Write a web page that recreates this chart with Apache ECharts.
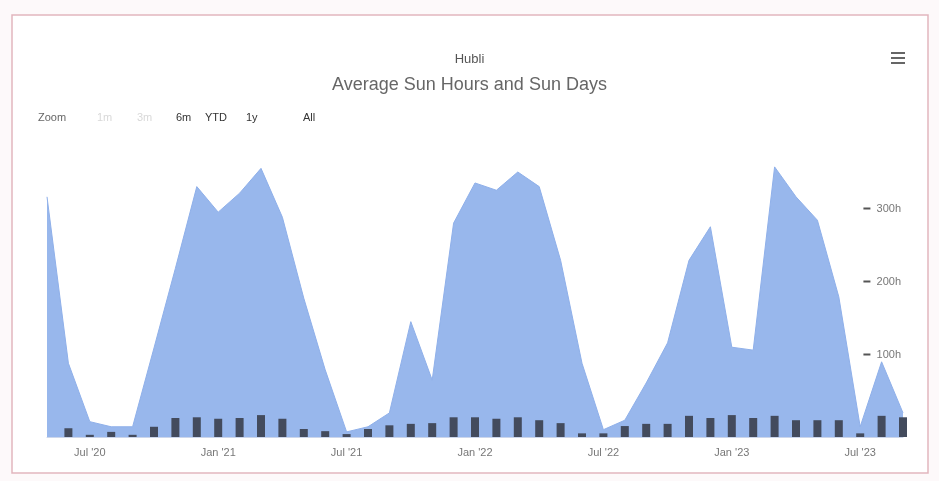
<!DOCTYPE html>
<html>
<head>
<meta charset="utf-8">
<script src="https://cdn.jsdelivr.net/npm/echarts@6/dist/echarts.min.js"></script>
<style>
html,body{margin:0;padding:0;background:#fdf9fa;}
#c{width:939px;height:481px;}
</style>
</head>
<body>
<div id="c"></div>
<script>
const categories = ["May '20","Jun '20","Jul '20","Aug '20","Sep '20","Oct '20","Nov '20","Dec '20",
  "Jan '21","Feb '21","Mar '21","Apr '21","May '21","Jun '21","Jul '21","Aug '21","Sep '21","Oct '21","Nov '21","Dec '21",
  "Jan '22","Feb '22","Mar '22","Apr '22","May '22","Jun '22","Jul '22","Aug '22","Sep '22","Oct '22","Nov '22","Dec '22",
  "Jan '23","Feb '23","Mar '23","Apr '23","May '23","Jun '23","Jul '23","Aug '23","Sep '23"];
const sunHours = [329,101,21,14,14,122,231,343,308,334,368,301,190,92,7,14,33,158,78,293,348,338,363,343,242,101,10,23,74,129,242,288,123,119,370,329,297,192,14,103,33];
const sunDays = [null,12,3,7,3,14,26,27,25,26,30,25,11,8,4,11,16,18,19,27,27,25,27,23,19,5,5,15,18,18,29,26,30,26,29,23,23,23,5,29,27];
const yTickLabels = [100,200,300];
const zoomButtons = [
  {t:'Zoom', x:38, c:'#666'},
  {t:'1m', x:97, c:'#d8d8d8'},
  {t:'3m', x:137, c:'#d8d8d8'},
  {t:'6m', x:176, c:'#333'},
  {t:'YTD', x:205, c:'#333'},
  {t:'1y', x:246, c:'#333'},
  {t:'All', x:303, c:'#333'}
];

const chart = echarts.init(document.getElementById('c'));
const graphics = [
  {type:'rect', shape:{x:12,y:15,width:916,height:458}, style:{fill:'#ffffff', stroke:'#e2b6be', lineWidth:1.5}, z:-10, silent:true},
  {type:'rect', shape:{x:891,y:52,width:14,height:2}, style:{fill:'#666'}},
  {type:'rect', shape:{x:891,y:57,width:14,height:2}, style:{fill:'#666'}},
  {type:'rect', shape:{x:891,y:62,width:14,height:2}, style:{fill:'#666'}}
];
zoomButtons.forEach(b => graphics.push({
  type:'text', x:b.x, y:118,
  style:{text:b.t, fill:b.c, font:'11px "Liberation Sans", Arial, sans-serif', textVerticalAlign:'middle'}
}));

chart.setOption({
  backgroundColor:'transparent',
  animation:false,
  title:[
    {text:'Hubli', left:'center', top:48, textStyle:{fontSize:13, fontWeight:'normal', color:'#555', fontFamily:'Liberation Sans'}},
    {text:'Average Sun Hours and Sun Days', left:'center', top:71, textStyle:{fontSize:18, fontWeight:'normal', color:'#666', fontFamily:'Liberation Sans'}}
  ],
  graphic: graphics,
  grid:{left:47, right:36, top:145, bottom:44},
  xAxis:{
    type:'category', data:categories, boundaryGap:false,
    axisLine:{lineStyle:{color:'#ccd6eb'}},
    axisTick:{show:false},
    axisLabel:{
      interval:(i, v) => v.startsWith('Jan') || v.startsWith('Jul'),
      color:'#777', fontSize:11, margin:10, fontFamily:'Liberation Sans'
    },
    splitLine:{show:false}
  },
  yAxis:{
    type:'value', position:'right', min:0, max:400, interval:100,
    axisLine:{show:false}, axisTick:{show:false},
    splitLine:{show:false},
    axisLabel:{
      inside:true, margin:2, verticalAlign:'bottom', color:'#777', fontSize:11, fontFamily:'Liberation Sans',
      padding:[0,0,4,0],
      formatter:v => yTickLabels.includes(v) ? '{d|}  ' + v + 'h' : '',
      rich:{d:{width:7, height:2, backgroundColor:'#555'}}
    }
  },
  series:[
    {type:'line', name:'Sun Hours', data:sunHours, symbol:'none',
     lineStyle:{color:'#8fb0ea', width:1},
     areaStyle:{color:'#98b7ec', opacity:1}, z:2},
    {type:'bar', name:'Sun Days', data:sunDays, barWidth:8, clip:false,
     itemStyle:{color:'#434b5d'}, z:3}
  ]
});
</script>
</body>
</html>
